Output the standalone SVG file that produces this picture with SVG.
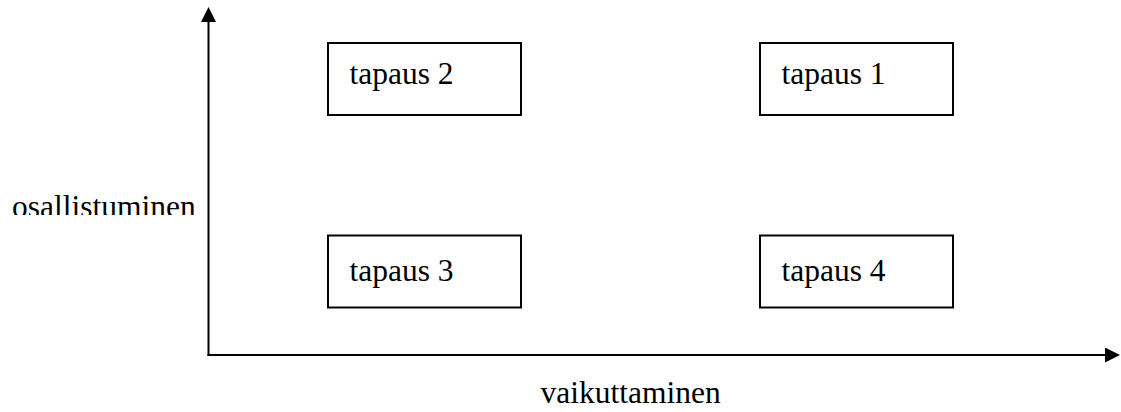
<svg xmlns="http://www.w3.org/2000/svg" width="1121" height="412" viewBox="0 0 1121 412">
  <style>
    .box { fill: #ffffff; stroke: #000000; stroke-width: 2; }
    .lbl { font-family: "Liberation Serif", "Times New Roman", serif; font-size: 31.5px; fill: #000000; }
    .axis { stroke: #000000; stroke-width: 2; fill: none; }
  </style>
  <defs>
    <marker id="arrow" markerUnits="userSpaceOnUse" markerWidth="16" markerHeight="16" refX="0" refY="7.5" orient="auto">
      <path d="M0,0 L15,7.5 L0,15 z" fill="#000000"/>
    </marker>
    <clipPath id="clipY">
      <rect x="0" y="0" width="1121" height="215"/>
    </clipPath>
  </defs>
  <rect width="1121" height="412" fill="#ffffff"/>

  <g id="connectors">
    <line class="axis" x1="208.5" y1="356" x2="208.5" y2="22" marker-end="url(#arrow)"/>
    <line class="axis" x1="207.5" y1="355" x2="1105" y2="355" marker-end="url(#arrow)"/>
  </g>

  <g id="label-y">
    <text class="lbl" x="12" y="216.5" clip-path="url(#clipY)">osallistuminen</text>
  </g>
  <g id="label-x">
    <text class="lbl" x="540.5" y="403">vaikuttaminen</text>
  </g>

  <g id="tapaus2">
    <rect class="box" x="328" y="43" width="193" height="72"/>
    <text class="lbl" x="349.5" y="84">tapaus 2</text>
  </g>
  <g id="tapaus1">
    <rect class="box" x="760" y="43" width="193" height="72"/>
    <text class="lbl" x="781.5" y="84">tapaus 1</text>
  </g>
  <g id="tapaus3">
    <rect class="box" x="328" y="235.5" width="193" height="72"/>
    <text class="lbl" x="349.5" y="281">tapaus 3</text>
  </g>
  <g id="tapaus4">
    <rect class="box" x="760" y="235.5" width="193" height="72"/>
    <text class="lbl" x="781.5" y="281">tapaus 4</text>
  </g>
</svg>
